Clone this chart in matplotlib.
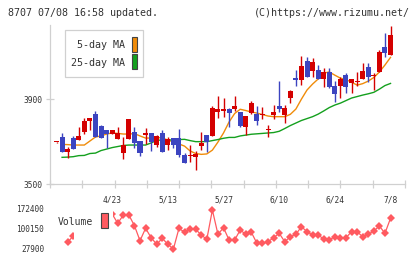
import matplotlib
matplotlib.use("Agg")
import matplotlib.pyplot as plt
import numpy as np
from matplotlib.patches import Rectangle

# ---------------- data ----------------
opens = [3697, 3720, 3652, 3718, 3710, 3747, 3799, 3830, 3774, 3755,
         3736, 3714, 3648, 3711, 3747, 3703, 3730, 3741, 3686, 3741,
         3686, 3717, 3717, 3637, 3632, 3629, 3681, 3731, 3728, 3841,
         3845, 3853, 3853, 3841, 3768, 3837, 3830, 3828, 3757, 3827,
         3868, 3826, 3907, 4002, 3991, 4081, 4035, 4038, 3996, 4030,
         3964, 3964, 4014, 3975, 3982, 3996, 4052, 4010, 4030, 4148, 4109]
highs = [3700, 3739, 3673, 3727, 3768, 3813, 3813, 3846, 3778, 3755,
         3755, 3770, 3720, 3807, 3770, 3703, 3766, 3741, 3731, 3755,
         3723, 3717, 3760, 3648, 3684, 3656, 3745, 3731, 3868, 3915,
         3907, 3860, 3915, 3841, 3821, 3892, 3868, 3862, 3778, 3873,
         3986, 3873, 3944, 4038, 4104, 4098, 4093, 4062, 4046, 4046,
         3985, 4006, 4022, 3996, 4030, 4073, 4073, 4022, 4132, 4214, 4248]
lows = [3694, 3652, 3621, 3667, 3710, 3736, 3755, 3720, 3719, 3668,
        3736, 3714, 3617, 3711, 3668, 3634, 3689, 3657, 3676, 3652,
        3660, 3668, 3629, 3601, 3605, 3566, 3660, 3650, 3728, 3813,
        3818, 3770, 3845, 3768, 3731, 3830, 3778, 3807, 3723, 3805,
        3841, 3786, 3884, 3964, 3967, 4006, 4006, 3996, 3959, 3952,
        3886, 3907, 3931, 3931, 3964, 3996, 3983, 3944, 4030, 4101, 4109]
closes = [3697, 3652, 3664, 3667, 3727, 3799, 3813, 3720, 3719, 3735,
          3755, 3742, 3684, 3807, 3695, 3648, 3741, 3700, 3727, 3652,
          3712, 3686, 3637, 3601, 3633, 3643, 3695, 3700, 3857, 3853,
          3855, 3837, 3868, 3774, 3821, 3884, 3799, 3830, 3759, 3840,
          3854, 3857, 3939, 3991, 4057, 4006, 4074, 3996, 4030, 3959,
          3925, 3996, 3959, 3996, 3984, 4033, 4004, 4012, 4124, 4120, 4203]

ma5 = [np.nan, 3687, 3686, 3684, 3684, 3684, 3703, 3722, 3727, 3736,
       3741, 3739, 3736, 3736, 3738, 3727, 3717, 3717, 3720, 3717,
       3708, 3698, 3689, 3679, 3656, 3644, 3640, 3642, 3660, 3698,
       3741, 3793, 3833, 3853, 3847, 3840, 3835, 3828, 3821, 3818,
       3818, 3818, 3829, 3854, 3901, 3944, 3972, 3996, 4024, 4029,
       4014, 4000, 3993, 3981, 3967, 3974, 3986, 4003, 4029, 4062, 4098]
ma25 = [np.nan, 3626, 3627, 3629, 3634, 3635, 3644, 3646, 3658, 3665,
        3672, 3677, 3682, 3684, 3684, 3684, 3684, 3694, 3706, 3708,
        3708, 3708, 3710, 3711, 3705, 3700, 3700, 3700, 3705, 3710,
        3716, 3720, 3720, 3727, 3731, 3735, 3737, 3739, 3741, 3743,
        3749, 3762, 3776, 3788, 3800, 3809, 3818, 3830, 3845, 3861,
        3873, 3882, 3894, 3906, 3913, 3920, 3926, 3933, 3948, 3965, 3975]

volume = [52100, 74900, 89300, 111000, 96500, 125400, 82100, 114600, 154300, 120700,
          150700, 150700, 112100, 57900, 102700, 68700, 44900, 66600, 44900, 27900,
          102700, 88200, 99100, 99100, 78500, 62900, 168800, 81000, 104800, 60400,
          60400, 96500, 81000, 88200, 48500, 48500, 54300, 68700, 84600, 54300,
          72300, 81000, 108500, 90400, 78500, 78500, 64000, 60400, 72300, 68700,
          68700, 90400, 90400, 72300, 81000, 92900, 111000, 84600, 138800]
volume_start = 2  # first candle index that has a volume point

tick_idx = [10, 20, 30, 40, 50, 60]
tick_labels = ["4/23", "5/13", "5/27", "6/10", "6/24", "7/8"]
price_ticks = [3500, 3900]
vol_ticks = [27900, 100150, 172400]
vol_tick_labels = ["27900", "100150", "172400"]

title_left = "8707 07/08 16:58 updated."
title_right = "(C)https://www.rizumu.net/"

# ---------------- style ----------------
RED = "#d40000"
BLUE = "#3c44c0"
ORANGE = "#f08c0a"
GREEN = "#14a01e"
VOLC = "#ff5a60"
GRID = "#d0d0d0"
TXT = "#333333"
FONT = "DejaVu Sans Mono"

W, H = 420, 259
def fx(p):
    return p / W
def fy(p):
    return 1 - p / H

fig = plt.figure(figsize=(4.2, 2.59), dpi=100)
fig.patch.set_facecolor("white")

x0, dx = 56.5, 5.567
xl = ((50 - x0) / dx, (405 - x0) / dx)

ax = fig.add_axes([fx(50), fy(184), fx(405) - fx(50), fy(25) - fy(184)])
ax.set_xlim(*xl)
ax.set_ylim(3500, 4251)
for s in ["top", "right"]:
    ax.spines[s].set_visible(False)
for s in ["left", "bottom"]:
    ax.spines[s].set_color(GRID)
    ax.spines[s].set_linewidth(0.9)

n = len(opens)
idx = np.arange(n)
o = np.array(opens, float)
c = np.array(closes, float)
hi = np.array(highs, float)
lo = np.array(lows, float)
colors = [RED if cc >= oo else BLUE for oo, cc in zip(o, c)]

ax.vlines(idx, lo, hi, colors=colors, linewidth=1.0, zorder=3)
bottoms = np.minimum(o, c)
heights = np.maximum(np.abs(c - o), 4.5)
ax.bar(idx, heights, bottom=bottoms, width=0.9, color=colors, linewidth=0, zorder=4)

ax.plot(idx, ma5, color=ORANGE, lw=1.0, zorder=2)
ax.plot(idx, ma25, color=GREEN, lw=1.0, zorder=2)

ax.set_yticks(price_ticks)
ax.set_yticklabels([str(v) for v in price_ticks], fontsize=5.7, family=FONT, color=TXT)
ax.tick_params(axis="y", direction="inout", length=5.8, width=0.9, color=GRID, pad=2.5)

ax.set_xticks(tick_idx)
ax.set_xticklabels(tick_labels, fontsize=5.7, family=FONT, color=TXT)
ax.tick_params(axis="x", which="major", length=0, pad=8)
ax.set_xticks(np.linspace(xl[0], xl[1], 12), minor=True)
ax.tick_params(axis="x", which="minor", direction="inout", length=6, width=0.9, color=GRID)

# main legend
fig.patches.append(Rectangle((fx(65), fy(77)), fx(143) - fx(65), fy(30) - fy(77),
                             transform=fig.transFigure, facecolor="white",
                             edgecolor=GRID, linewidth=0.9, zorder=5))
fig.text(fx(125), fy(45.5), "5-day MA", ha="right", va="center", fontsize=7.2,
         family=FONT, color=TXT, zorder=6)
fig.text(fx(125), fy(62.5), "25-day MA", ha="right", va="center", fontsize=7.2,
         family=FONT, color=TXT, zorder=6)
fig.patches.append(Rectangle((fx(131.5), fy(52)), fx(137) - fx(131.5), fy(37) - fy(52),
                             transform=fig.transFigure, facecolor=ORANGE,
                             edgecolor="#444444", linewidth=0.8, zorder=6))
fig.patches.append(Rectangle((fx(131.5), fy(69)), fx(137) - fx(131.5), fy(54) - fy(69),
                             transform=fig.transFigure, facecolor=GREEN,
                             edgecolor="#444444", linewidth=0.8, zorder=6))

# volume panel
axv = fig.add_axes([fx(50), fy(253), fx(405) - fx(50), fy(205) - fy(253)])
axv.set_xlim(*xl)
axv.set_ylim(13450, 186850)
for s in axv.spines.values():
    s.set_visible(False)
axv.set_xticks([])
axv.set_yticks(vol_ticks)
axv.set_yticklabels(vol_tick_labels, fontsize=5.6, family=FONT, color=TXT)
axv.tick_params(axis="y", length=0, pad=4.3)
vidx = np.arange(volume_start, volume_start + len(volume))
axv.plot(vidx, volume, color=VOLC, lw=0.9, marker="D", markersize=4.0,
         markeredgewidth=0, zorder=2)
axv.patch.set_alpha(0)

fig.patches.append(Rectangle((fx(74), fy(254)), fx(113.5) - fx(74), fy(203) - fy(254),
                             transform=fig.transFigure, facecolor="white",
                             edgecolor="none", zorder=5))
fig.text(fx(58), fy(222), "Volume", ha="left", va="center", fontsize=7.0,
         family=FONT, color=TXT, zorder=6)
fig.patches.append(Rectangle((fx(101), fy(228)), fx(108) - fx(101), fy(213) - fy(228),
                             transform=fig.transFigure, facecolor=VOLC,
                             edgecolor="#444444", linewidth=0.8, zorder=6))

# header
fig.text(fx(8), fy(12.5), title_left, ha="left", va="center", fontsize=7.2,
         family=FONT, color=TXT)
fig.text(fx(410), fy(12.5), title_right, ha="right", va="center", fontsize=7.2,
         family=FONT, color=TXT)

fig.savefig("out.png", dpi=100, facecolor="white")
